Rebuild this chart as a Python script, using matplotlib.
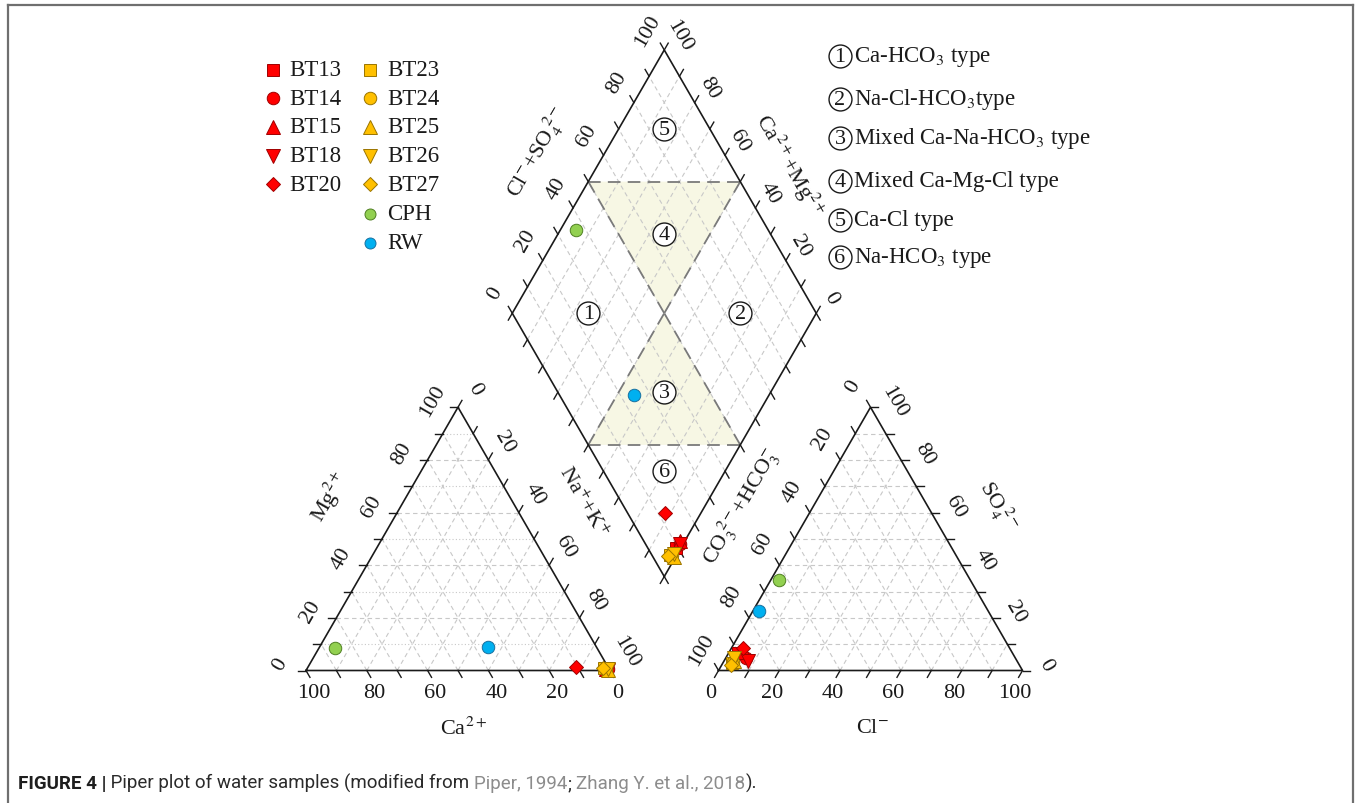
import numpy as np
import matplotlib
matplotlib.use("Agg")
import matplotlib.pyplot as plt
from matplotlib.patches import Polygon

plt.rcParams["font.family"] = ["Liberation Serif", "DejaVu Serif"]
plt.rcParams["mathtext.fontset"] = "stix"

# ---------------- sample composition (meq %) ----------------
samples = ["BT13", "BT14", "BT15", "BT18", "BT20",
           "BT23", "BT24", "BT25", "BT26", "BT27", "CPH", "RW"]
ca   = [0.9, 0.6, 1.0, 0.5, 10.7, 1.5, 1.0, 0.4, 0.5, 2.0, 86.2, 35.8]
mg   = [0.6, 0.4, 0.5, 0.3, 1.2, 0.8, 0.5, 0.3, 0.5, 0.8, 8.6, 8.8]
na_k = [98.5, 99.0, 98.5, 99.2, 88.1, 97.7, 98.5, 99.3, 99.0, 97.2, 5.2, 55.4]
hco3 = [90.5, 88.5, 88.0, 88.6, 87.6, 94.0, 93.5, 93.2, 92.5, 95.0, 63.0, 75.5]
so4  = [6.5, 4.6, 7.0, 3.6, 8.7, 3.0, 3.2, 3.5, 4.8, 2.0, 34.4, 22.5]
cl   = [3.0, 6.9, 5.0, 7.8, 3.7, 3.0, 3.3, 3.3, 2.7, 3.0, 2.6, 2.0]

water_types = ["Ca-HCO$_3$ type", "Na-Cl-HCO$_3$type", "Mixed Ca-Na-HCO$_3$ type",
               "Mixed Ca-Mg-Cl type", "Ca-Cl type", "Na-HCO$_3$ type"]

# ---------------- styles ----------------
RED, YEL, GRN, BLU = "#ff0000", "#ffc000", "#92d050", "#00b0f0"
markers = ["s", "o", "^", "v", "D", "s", "o", "^", "v", "D", "o", "o"]
faces = [RED] * 5 + [YEL] * 5 + [GRN, BLU]
edges = ["#a00000"] * 5 + ["#9a7400"] * 5 + ["#4f7f22", "#1870a0"]
msize = {"s": 8.0, "o": 9.0, "^": 9.5, "v": 9.5, "D": 7.5}

# ---------------- geometry ----------------
H = np.sqrt(3) / 2
GAP = 35.7
S = 3.04                 # pixels per percent unit
OX, OY = 306.0, 671.5    # pixel position of the cation triangle origin
W, HT = 1356, 804

AX0 = 100 + GAP
BX, BY = 100 + GAP / 2, GAP * H


def P(xp, yp):
    return (xp - OX) / S, (OY - yp) / S


def cat_xy(c, m, n):
    t = c + m + n
    m, n = m / t * 100, n / t * 100
    return n + m / 2, m * H


def an_xy(h, s, c):
    t = h + s + c
    s, c = s / t * 100, c / t * 100
    return AX0 + c + s / 2, s * H


def dia_xy(a, c):
    return BX + (c - a) / 2, BY + (a + c) * H


fig = plt.figure(figsize=(W / 100, HT / 100), dpi=100)
ax = fig.add_axes([0, 0, 1, 1])
ax.set_xlim(-OX / S, (W - OX) / S)
ax.set_ylim((OY - HT) / S, OY / S)
ax.axis("off")

GRID = dict(color="#c8c8c8", lw=0.8, zorder=1)
DASH = (0, (4, 3))
DOT = (0, (1, 2))


def seg(p, q, **kw):
    ax.plot([p[0], q[0]], [p[1], q[1]], **kw)


# ---- grids ----
for k in range(10, 100, 10):
    # cation triangle
    seg((k / 2, k * H), (100 - k / 2, k * H), ls=DASH if k % 20 == 0 else DOT, **GRID)
    seg((k, 0), (50 + k / 2, (100 - k) * H), ls=DASH, **GRID)
    seg((100 - k, 0), ((100 - k) / 2, (100 - k) * H), ls=DASH, **GRID)
    # anion triangle
    seg((AX0 + k / 2, k * H), (AX0 + 100 - k / 2, k * H), ls=DASH, **GRID)
    seg((AX0 + k, 0), (AX0 + 50 + k / 2, (100 - k) * H), ls=DASH, **GRID)
    seg((AX0 + 100 - k, 0), (AX0 + (100 - k) / 2, (100 - k) * H), ls=DASH, **GRID)
    # diamond
    seg(dia_xy(k, 0), dia_xy(k, 100), ls=DASH, **GRID)
    seg(dia_xy(0, k), dia_xy(100, k), ls=DASH, **GRID)

# ---- shaded fields in the diamond ----
FILL = "#f7f7e4"
ax.add_patch(Polygon([dia_xy(100, 50), dia_xy(50, 100), dia_xy(50, 50)],
                     closed=True, fc=FILL, ec="none", zorder=0.5))
ax.add_patch(Polygon([dia_xy(50, 50), dia_xy(50, 0), dia_xy(0, 50)],
                     closed=True, fc=FILL, ec="none", zorder=0.5))
BND = dict(color="#7a7a7a", lw=1.3, ls=(0, (7, 4)), zorder=2)
for p, q in [((100, 50), (50, 100)), ((100, 50), (50, 50)), ((50, 100), (50, 50)),
             ((50, 0), (0, 50)), ((50, 0), (50, 50)), ((0, 50), (50, 50))]:
    seg(dia_xy(*p), dia_xy(*q), **BND)

# ---- outlines ----
OUT = dict(color="#1a1a1a", lw=1.2, zorder=3, solid_joinstyle="miter")
tri = np.array([(0, 0), (100, 0), (50, 100 * H), (0, 0)])
ax.plot(tri[:, 0], tri[:, 1], **OUT)
ax.plot(tri[:, 0] + AX0, tri[:, 1], **OUT)
dm = np.array([dia_xy(0, 0), dia_xy(100, 0), dia_xy(100, 100), dia_xy(0, 100), dia_xy(0, 0)])
ax.plot(dm[:, 0], dm[:, 1], **OUT)

# ---- ticks and tick labels ----
TL = 2.6
TK = dict(color="#1a1a1a", lw=1.0, zorder=3)
FS_T = 16


def tick(p, d, label=None, off=(0, 0), rot=0):
    seg(p, (p[0] + d[0] * TL, p[1] + d[1] * TL), **TK)
    if label is not None:
        ax.text(p[0] + off[0], p[1] + off[1], label, rotation=rot,
                ha="center", va="center", fontsize=FS_T, color="#1a1a1a",
                rotation_mode="anchor")


for k in range(0, 101, 10):
    lab = k % 20 == 0
    # cation: Ca along base, Mg left edge, Na+K right edge
    tick((k, 0), (0.5, -H), str(100 - k) if lab else None, (2.6, -7.4))
    tick((k / 2, k * H), (-1, 0), str(k) if lab else None, (-8.4, 2.2), 60)
    tick((50 + k / 2, (100 - k) * H), (0.5, H), str(k) if lab else None, (5.4, 6.2), -60)
    # anion: Cl along base, CO3+HCO3 left edge, SO4 right edge
    tick((AX0 + k, 0), (-0.5, -H), str(k) if lab else None, (-2.5, -7.4))
    tick((AX0 + (100 - k) / 2, (100 - k) * H), (-0.5, H), str(k) if lab else None, (-5.6, 7.1), 60)
    tick((AX0 + 100 - k / 2, k * H), (1, 0), str(k) if lab else None, (7.8, 2.0), -60)
    # diamond
    tick(dia_xy(100, k), (-0.5, H), str(k) if lab else None, (-5.6, 6.6), 60)
    tick(dia_xy(k, 100), (0.5, H), str(k) if lab else None, (4.8, 5.0), -60)
    tick(dia_xy(k, 0), (-0.5, -H))
    tick(dia_xy(0, k), (0.5, -H))

# ---- axis titles ----
FS_A = 16
titles = [
    ("Mg$^{2+}$", (330, 497), 60),
    ("Na$^{+}$+K$^{+}$", (583, 503), -60),
    ("Ca$^{2+}$", (463, 729), 0),
    ("CO$_3^{\\ 2-}$+HCO$_3^{-}$", (741, 506), 60),
    ("SO$_4^{\\ 2-}$", (998, 506), -60),
    ("Cl$^{-}$", (872, 729), 0),
    ("Cl$^{-}$+SO$_4^{\\ 2-}$", (538, 153), 60),
    ("Ca$^{2+}$+Mg$^{2+}$", (789, 166), -60),
]
for txt, (xp, yp), r in titles:
    x, y = P(xp, yp)
    ax.text(x, y, txt, rotation=r, ha="center", va="center", fontsize=FS_A,
            color="#1a1a1a", rotation_mode="anchor")


# ---- circled field numbers ----
def circled(x, y, n):
    ax.plot([x], [y], "o", ms=16.5, mfc="white", mec="#1a1a1a", mew=1.0, zorder=4)
    ax.text(x, y - 0.2, str(n), ha="center", va="center", fontsize=16,
            color="#1a1a1a", zorder=5)


field_pos = {1: (75, 25), 2: (25, 75), 3: (35, 35), 4: (65, 65), 5: (85, 85), 6: (20, 20)}
for n, (a, c) in field_pos.items():
    circled(*dia_xy(a, c), n)

# ---- sample points ----
for i in range(len(samples)):
    kw = dict(marker=markers[i], ms=msize[markers[i]], mfc=faces[i], mec=edges[i],
              mew=0.7, ls="none", zorder=6)
    x, y = cat_xy(ca[i], mg[i], na_k[i])
    ax.plot([x], [y], **kw)
    x, y = an_xy(hco3[i], so4[i], cl[i])
    ax.plot([x], [y], **kw)
    x, y = dia_xy(ca[i] + mg[i], cl[i] + so4[i])
    ax.plot([x], [y], **kw)

# ---- sample legend (two columns) ----
FS_L = 16.5
col_x = [(273, 289), (370, 387)]
row_y = [70.5, 99.3, 128, 156.8, 185.5, 214.5, 243.5]
for i, name in enumerate(samples):
    col = 0 if i < 5 else 1
    row = i if i < 5 else i - 5
    mx, tx = col_x[col]
    ms = msize[markers[i]] * (0.88 if faces[i] in (GRN, BLU) else 1.0)
    ax.plot(*[[v] for v in P(mx, row_y[row])], marker=markers[i], ms=ms,
            mfc=faces[i], mec=edges[i], mew=0.7, ls="none", zorder=6)
    x, y = P(tx, row_y[row])
    ax.text(x, y, name, ha="left", va="center", fontsize=FS_L, color="#1a1a1a")

# ---- water-type legend ----
type_y = [56.7, 99.5, 139, 181.5, 220.5, 258.3]
for n, (lab, yp) in enumerate(zip(water_types, type_y), start=1):
    circled(*P(840, yp), n)
    x, y = P(854, yp)
    ax.text(x, y, lab, ha="left", va="center", fontsize=16.5, color="#1a1a1a")

# ---- frame ----
FR = dict(color="#6f6f6f", lw=1.6, clip_on=False, zorder=10, solid_capstyle="projecting")
for p, q in [((8, 6), (1353, 6)), ((8, 6), (8, 804)), ((1353, 6), (1353, 804))]:
    seg(P(*p), P(*q), **FR)

# ---- caption (laid out piece by piece, fitted to its line length) ----
fig.canvas.draw()
rend = fig.canvas.get_renderer()
cap_parts = [
    ("FIGURE 4 |", "bold", "#1e1e1e"),
    (" Piper plot of water samples (modified from ", "normal", "#2a2a2a"),
    ("Piper, 1994", "normal", "#8c8c8c"),
    ("; ", "normal", "#2a2a2a"),
    ("Zhang Y. et al., 2018", "normal", "#8c8c8c"),
    (").", "normal", "#2a2a2a"),
]
CAP_FAMILY = ["Roboto", "DejaVu Sans"]
CAP_X0, CAP_X1, CAP_BASE = 18.0, 757.0, 789.0


def draw_caption(size):
    xpix, arts = CAP_X0, []
    for txt, wt, colr in cap_parts:
        t = fig.text(xpix / W, 1 - CAP_BASE / HT, txt, fontsize=size, fontweight=wt,
                     color=colr, family=CAP_FAMILY, ha="left", va="baseline")
        xpix += t.get_window_extent(rend).width
        arts.append(t)
    return xpix, arts


end, arts = draw_caption(11.0)
for t in arts:
    t.remove()
draw_caption(11.0 * (CAP_X1 - CAP_X0) / (end - CAP_X0))

fig.savefig("out.png", dpi=100)
